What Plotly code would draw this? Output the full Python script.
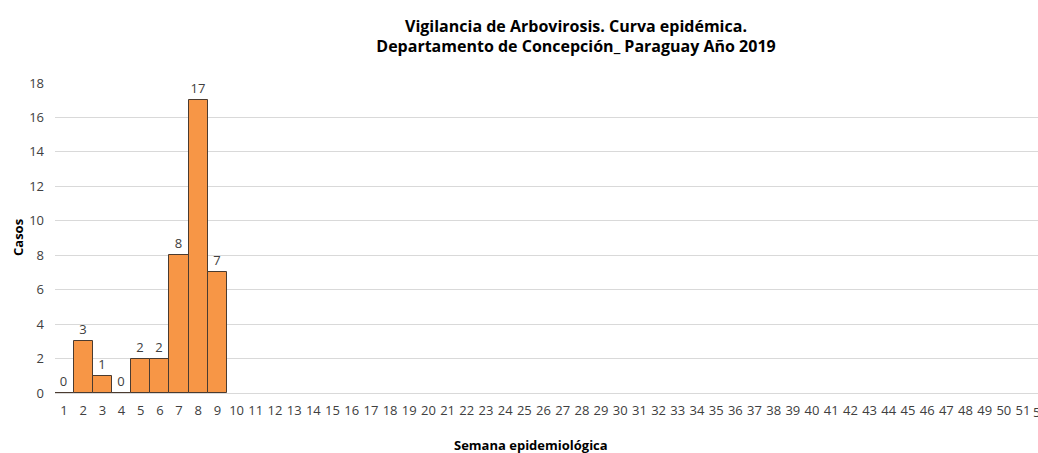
import plotly.graph_objects as go

weeks = list(range(1, 53))
bar_weeks = [1, 2, 3, 4, 5, 6, 7, 8, 9]
cases = [0, 3, 1, 0, 2, 2, 8, 17, 7]
y_ticks = [0, 2, 4, 6, 8, 10, 12, 14, 16, 18]

title_lines = ["Vigilancia de Arbovirosis. Curva epidémica.",
               "Departamento de Concepción_ Paraguay Año 2019"]

FONT = "Open Sans"
xr = [0.531, 51.78]

fig = go.Figure()
fig.add_trace(go.Bar(
    x=bar_weeks, y=cases,
    width=1.0,
    marker=dict(color="#F79646", line=dict(color="#4a3b30", width=1)),
    text=[str(v) for v in cases],
    textposition="outside",
    textfont=dict(family=FONT, size=13, color="#404040"),
    cliponaxis=False,
))

fig.update_layout(
    width=1038, height=453,
    margin=dict(l=55, r=0, t=83, b=60),
    paper_bgcolor="white", plot_bgcolor="white",
    showlegend=False,
    bargap=0,
    title=dict(
        text="<br>".join(title_lines),
        font=dict(family=FONT, size=16, color="#000000", weight="bold"),
        x=576/1038, xref="container", xanchor="center",
        y=1-31.5/453, yref="container", yanchor="middle",
    ),
    xaxis=dict(
        range=xr, tickmode="array", tickvals=weeks[:-1], ticktext=[str(w) for w in weeks[:-1]],
        showgrid=False, zeroline=False, showline=False, ticks="",
        tickfont=dict(family=FONT, size=13, color="#404040"),
        ticklabelstandoff=8, tickangle=0,
    ),
    yaxis=dict(
        range=[0, 18], tickmode="array", tickvals=y_ticks,
        showgrid=True, gridcolor="#d9d9d9", gridwidth=1,
        zeroline=True, zerolinecolor="#d9d9d9", zerolinewidth=1,
        showline=False, ticks="",
        tickfont=dict(family=FONT, size=13, color="#404040"),
        ticklabelstandoff=10,
    ),
    annotations=[
        dict(text="<b>Casos</b>", xref="paper", yref="paper", x=-37/983, y=0.5,
             xanchor="center", yanchor="middle", textangle=-90, showarrow=False,
             font=dict(family=FONT, size=13, color="#000000")),
        dict(text="<b>Semana epidemiológica</b>", xref="paper", yref="paper",
             x=(531-55)/983, y=-(445-392.7)/309.7, xanchor="center", yanchor="middle",
             showarrow=False, font=dict(family=FONT, size=13, color="#000000")),
        dict(text=str(weeks[-1]), xref="paper", yref="paper",
             x=(weeks[-1] - xr[0])/(xr[1]-xr[0]), y=0, yshift=-19, xshift=-2,
             xanchor="center", yanchor="middle", showarrow=False,
             font=dict(family=FONT, size=13, color="#404040")),
    ],
)

fig.write_html("out.html", config={"displayModeBar": False},
               post_script="document.body.style.margin='0';document.body.style.overflow='hidden';")
